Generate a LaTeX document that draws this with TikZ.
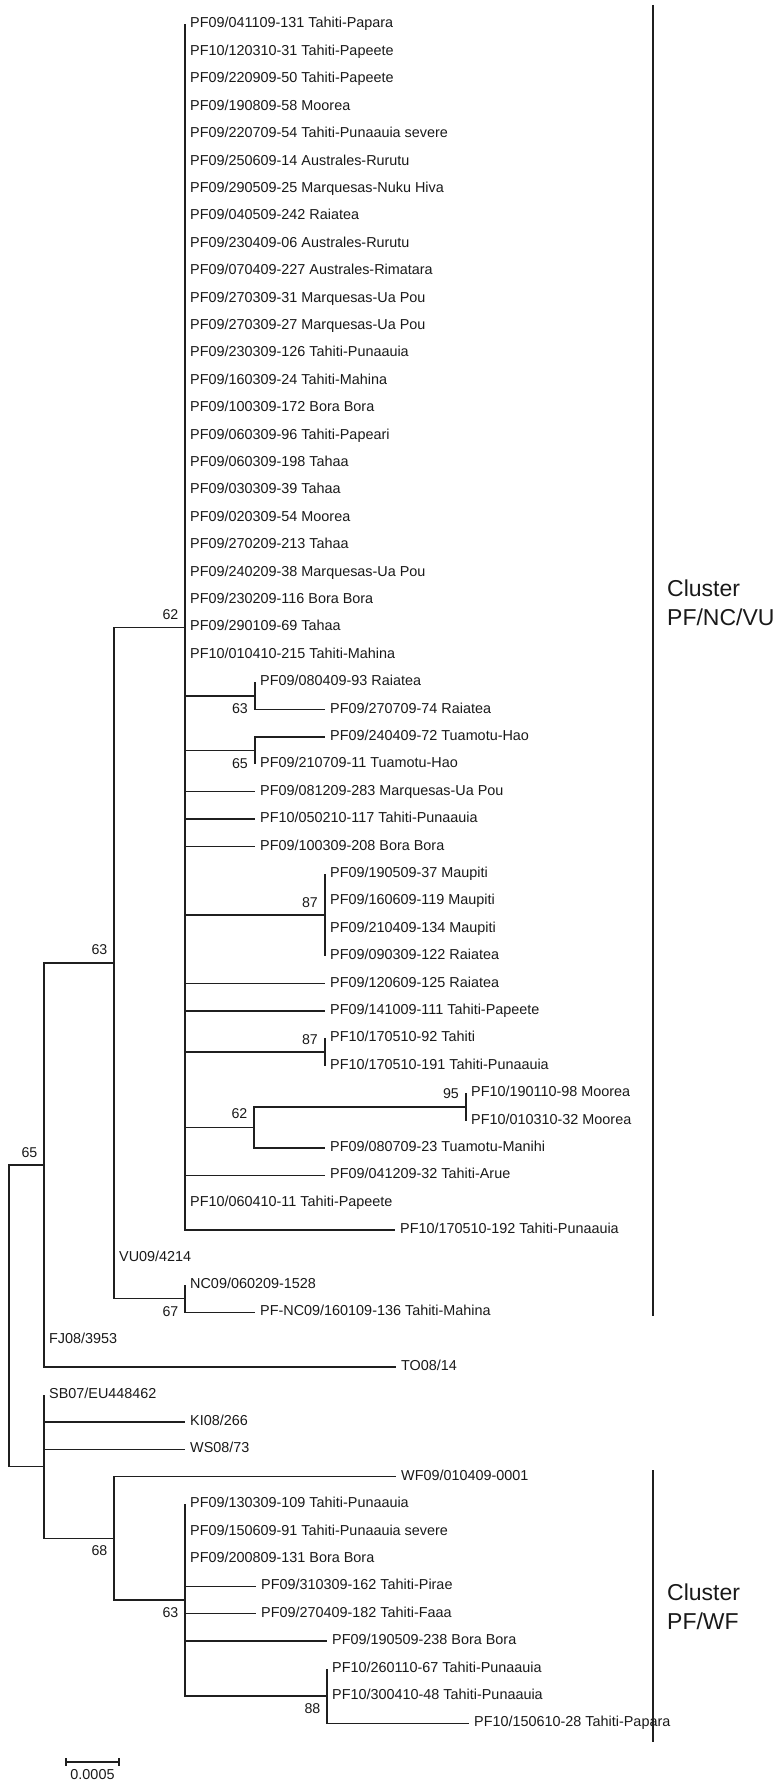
\documentclass[tikz,border=0pt]{standalone}
\usepackage{fontspec}
\setmainfont{Liberation Sans}
\begin{document}
\begin{tikzpicture}[x=1pt,y=-1pt,
  br/.style={line width=1.4pt, draw=black!88},
  bar/.style={line width=1.8pt, draw=black!88},
  leaf/.style={anchor=base west, inner sep=0pt, font=\fontsize{14.4}{16}\selectfont, text=black!90},
  lbla/.style={anchor=base east, inner sep=0pt, font=\fontsize{14.2}{16}\selectfont, text=black!90},
  lblb/.style={anchor=base east, inner sep=0pt, font=\fontsize{14.2}{16}\selectfont, text=black!90},
  clus/.style={anchor=base west, inner sep=0pt, font=\fontsize{23}{28}\selectfont, text=black!90}]
\useasboundingbox (0,0) rectangle (782,1782);
\newcommand\lf[4]{%
  \coordinate (#1) at (#2,{24.5+27.4*(#3-1)});
  \node[leaf] (#1t) at ([shift={(5,3.5)}]#1) {#4};}
% internal nodes
\coordinate (root) at (9,1315.7);
\coordinate (n65) at (44,1165);
\coordinate (n63) at (114,962.95);
\coordinate (n62) at (185,627.3);
\coordinate (n67) at (185,1298.6);
\coordinate (n63r) at (255,695.8);
\coordinate (n65h) at (255,750.6);
\coordinate (n87m) at (325,915);
\coordinate (n87t) at (325,1052);
\coordinate (n62b) at (254,1127.35);
\coordinate (n95) at (466,1106.8);
\coordinate (nlow) at (44,1466.4);
\coordinate (n68) at (114,1538.35);
\coordinate (n63b) at (185,1600);
\coordinate (n88) at (327,1695.9);
% leaves
\lf{r1}{185}{1}{PF09/041109-131 Tahiti-Papara}
\lf{r2}{185}{2}{PF10/120310-31 Tahiti-Papeete}
\lf{r3}{185}{3}{PF09/220909-50 Tahiti-Papeete}
\lf{r4}{185}{4}{PF09/190809-58 Moorea}
\lf{r5}{185}{5}{PF09/220709-54 Tahiti-Punaauia severe}
\lf{r6}{185}{6}{PF09/250609-14 Australes-Rurutu}
\lf{r7}{185}{7}{PF09/290509-25 Marquesas-Nuku Hiva}
\lf{r8}{185}{8}{PF09/040509-242 Raiatea}
\lf{r9}{185}{9}{PF09/230409-06 Australes-Rurutu}
\lf{r10}{185}{10}{PF09/070409-227 Australes-Rimatara}
\lf{r11}{185}{11}{PF09/270309-31 Marquesas-Ua Pou}
\lf{r12}{185}{12}{PF09/270309-27 Marquesas-Ua Pou}
\lf{r13}{185}{13}{PF09/230309-126 Tahiti-Punaauia}
\lf{r14}{185}{14}{PF09/160309-24 Tahiti-Mahina}
\lf{r15}{185}{15}{PF09/100309-172 Bora Bora}
\lf{r16}{185}{16}{PF09/060309-96 Tahiti-Papeari}
\lf{r17}{185}{17}{PF09/060309-198 Tahaa}
\lf{r18}{185}{18}{PF09/030309-39 Tahaa}
\lf{r19}{185}{19}{PF09/020309-54 Moorea}
\lf{r20}{185}{20}{PF09/270209-213 Tahaa}
\lf{r21}{185}{21}{PF09/240209-38 Marquesas-Ua Pou}
\lf{r22}{185}{22}{PF09/230209-116 Bora Bora}
\lf{r23}{185}{23}{PF09/290109-69 Tahaa}
\lf{r24}{185}{24}{PF10/010410-215 Tahiti-Mahina}
\lf{r25}{255}{25}{PF09/080409-93 Raiatea}
\lf{r26}{325}{26}{PF09/270709-74 Raiatea}
\lf{r27}{325}{27}{PF09/240409-72 Tuamotu-Hao}
\lf{r28}{255}{28}{PF09/210709-11 Tuamotu-Hao}
\lf{r29}{255}{29}{PF09/081209-283 Marquesas-Ua Pou}
\lf{r30}{255}{30}{PF10/050210-117 Tahiti-Punaauia}
\lf{r31}{255}{31}{PF09/100309-208 Bora Bora}
\lf{r32}{325}{32}{PF09/190509-37 Maupiti}
\lf{r33}{325}{33}{PF09/160609-119 Maupiti}
\lf{r34}{325}{34}{PF09/210409-134 Maupiti}
\lf{r35}{325}{35}{PF09/090309-122 Raiatea}
\lf{r36}{325}{36}{PF09/120609-125 Raiatea}
\lf{r37}{325}{37}{PF09/141009-111 Tahiti-Papeete}
\lf{r38}{325}{38}{PF10/170510-92 Tahiti}
\lf{r39}{325}{39}{PF10/170510-191 Tahiti-Punaauia}
\lf{r40}{466}{40}{PF10/190110-98 Moorea}
\lf{r41}{466}{41}{PF10/010310-32 Moorea}
\lf{r42}{325}{42}{PF09/080709-23 Tuamotu-Manihi}
\lf{r43}{325}{43}{PF09/041209-32 Tahiti-Arue}
\lf{r44}{185}{44}{PF10/060410-11 Tahiti-Papeete}
\lf{r45}{395}{45}{PF10/170510-192 Tahiti-Punaauia}
\lf{r46}{114}{46}{VU09/4214}
\lf{r47}{185}{47}{NC09/060209-1528}
\lf{r48}{255}{48}{PF-NC09/160109-136 Tahiti-Mahina}
\lf{r49}{44}{49}{FJ08/3953}
\lf{r50}{396}{50}{TO08/14}
\lf{r51}{44}{51}{SB07/EU448462}
\lf{r52}{185}{52}{KI08/266}
\lf{r53}{185}{53}{WS08/73}
\lf{r54}{396}{54}{WF09/010409-0001}
\lf{r55}{185}{55}{PF09/130309-109 Tahiti-Punaauia}
\lf{r56}{185}{56}{PF09/150609-91 Tahiti-Punaauia severe}
\lf{r57}{185}{57}{PF09/200809-131 Bora Bora}
\lf{r58}{256}{58}{PF09/310309-162 Tahiti-Pirae}
\lf{r59}{256}{59}{PF09/270409-182 Tahiti-Faaa}
\lf{r60}{327}{60}{PF09/190509-238 Bora Bora}
\lf{r61}{327}{61}{PF10/260110-67 Tahiti-Punaauia}
\lf{r62}{327}{62}{PF10/300410-48 Tahiti-Punaauia}
\lf{r63}{469}{63}{PF10/150610-28 Tahiti-Papara}
% branches
\draw[br] (root) |- (n65);
\draw[br] (root) |- (nlow);
\draw[br] (n65) |- (n63);
\draw[br] (n65) |- (r49);
\draw[br] (n65) |- (r50);
\draw[br] (n63) |- (n62);
\draw[br] (n63) |- (r46);
\draw[br] (n63) |- (n67);
\draw[br] (n67) |- (r47);
\draw[br] (n67) |- (r48);
\foreach \i in {1,...,24,29,30,31,36,37,43,44,45} {\draw[br] (n62) |- (r\i);}
\draw[br] (n62) |- (n63r);
\draw[br] (n62) |- (n65h);
\draw[br] (n62) |- (n87m);
\draw[br] (n62) |- (n87t);
\draw[br] (n62) |- (n62b);
\draw[br] (n63r) |- (r25);
\draw[br] (n63r) |- (r26);
\draw[br] (n65h) |- (r27);
\draw[br] (n65h) |- (r28);
\foreach \i in {32,33,34,35} {\draw[br] (n87m) |- (r\i);}
\draw[br] (n87t) |- (r38);
\draw[br] (n87t) |- (r39);
\draw[br] (n62b) |- (n95);
\draw[br] (n62b) |- (r42);
\draw[br] (n95) |- (r40);
\draw[br] (n95) |- (r41);
\draw[br] (nlow) |- (r51);
\draw[br] (nlow) |- (r52);
\draw[br] (nlow) |- (r53);
\draw[br] (nlow) |- (n68);
\draw[br] (n68) |- (r54);
\draw[br] (n68) |- (n63b);
\foreach \i in {55,56,57,58,59,60} {\draw[br] (n63b) |- (r\i);}
\draw[br] (n63b) |- (n88);
\foreach \i in {61,62,63} {\draw[br] (n88) |- (r\i);}
% bootstrap labels
\node[lbla] (b65) at ([shift={(-6.5,-8)}]n65) {65};
\node[lbla] (b63) at ([shift={(-6.5,-8)}]n63) {63};
\node[lbla] (b62) at ([shift={(-6.5,-8)}]n62) {62};
\node[lblb] (b67) at ([shift={(-6.5,17.5)}]n67) {67};
\node[lblb] (b63r) at ([shift={(-7,17.5)}]n63r) {63};
\node[lblb] (b65h) at ([shift={(-7,17.5)}]n65h) {65};
\node[lbla] (b87m) at ([shift={(-7,-8)}]n87m) {87};
\node[lbla] (b87t) at ([shift={(-7,-8)}]n87t) {87};
\node[lbla] (b62b) at ([shift={(-6.5,-8.5)}]n62b) {62};
\node[lbla] (b95) at ([shift={(-7,-8)}]n95) {95};
\node[lblb] (b68) at ([shift={(-6.5,17.5)}]n68) {68};
\node[lblb] (b63b) at ([shift={(-6.5,17.5)}]n63b) {63};
\node[lblb] (b88) at ([shift={(-6.5,17.5)}]n88) {88};
% cluster bars
\coordinate (c1t) at (653,5);
\coordinate (c1b) at (653,1316);
\draw[bar] (c1t) -- (c1b);
\node[clus] (c1a) at (667,596) {Cluster};
\node[clus] (c1c) at (667,625) {PF/NC/VU};
\coordinate (c2t) at (653,1470);
\coordinate (c2b) at (653,1742);
\draw[bar] (c2t) -- (c2b);
\node[clus] (c2a) at (667,1600) {Cluster};
\node[clus] (c2c) at (667,1629) {PF/WF};
% scale bar
\coordinate (sbl) at (66,1762);
\coordinate (sbr) at (119,1762);
\draw[br] (sbl) -- (sbr);
\draw[br] ([yshift=4]sbl) -- ([yshift=-4]sbl);
\draw[br] ([yshift=4]sbr) -- ([yshift=-4]sbr);
\node[leaf, anchor=base] (sbt) at (92.5,1779) {0.0005};
\end{tikzpicture}
\end{document}
